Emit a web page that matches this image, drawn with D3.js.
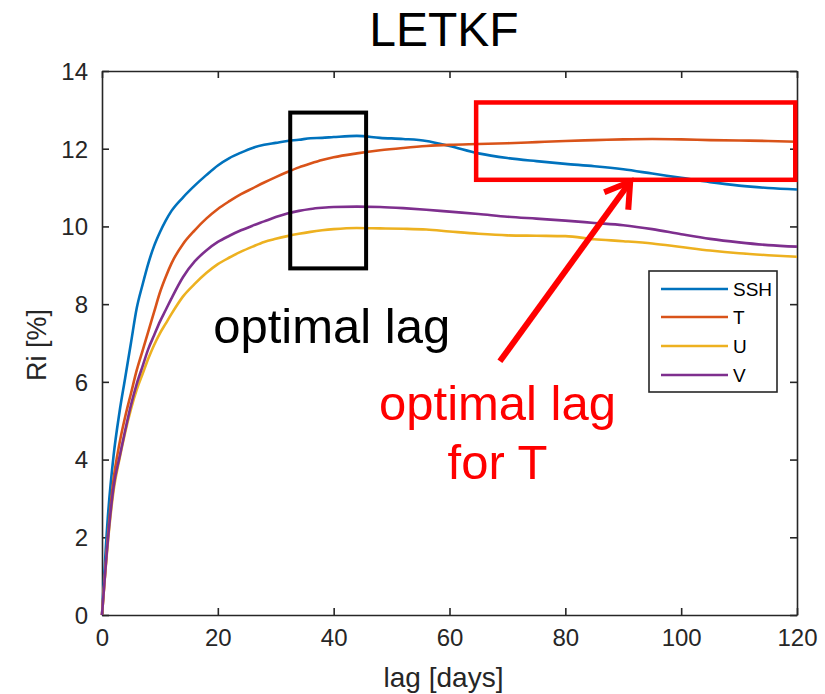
<!DOCTYPE html>
<html>
<head>
<meta charset="utf-8">
<script src="https://cdn.jsdelivr.net/npm/d3@7"></script>
<style>
  body { margin: 0; background: #fff; }
  svg { font-family: "Liberation Sans", Arial, sans-serif; }
</style>
</head>
<body>
<div id="chart"></div>
<script>
// lag values (days) shared by all series
const lagDays = [0,1,2,3,4,5,6,7,8,9,10,11,12,14,16,18,20,22,24,26,28,30,32,34,36,38,40,44,48,52,56,60,65,70,75,80,85,90,95,100,105,110,115,120];

// Ri [%] per variable
const ssh = [0,2.5,4.1,5.2,6.1,7.0,7.9,8.5,9.05,9.5,9.85,10.15,10.4,10.75,11.05,11.32,11.57,11.76,11.9,12.02,12.1,12.15,12.2,12.23,12.27,12.28,12.3,12.33,12.28,12.25,12.2,12.07,11.88,11.76,11.68,11.61,11.55,11.47,11.36,11.25,11.14,11.05,10.99,10.95];
const temp = [0,2.0,3.5,4.4,5.1,5.7,6.3,6.8,7.3,7.8,8.3,8.7,9.05,9.55,9.9,10.2,10.45,10.65,10.83,10.98,11.13,11.27,11.4,11.52,11.62,11.71,11.78,11.88,11.96,12.02,12.07,12.1,12.12,12.14,12.17,12.2,12.22,12.24,12.25,12.24,12.22,12.21,12.2,12.18];
const uVel = [0,1.85,3.2,4.0,4.7,5.3,5.8,6.2,6.6,6.95,7.25,7.5,7.75,8.2,8.52,8.8,9.03,9.2,9.35,9.48,9.6,9.68,9.75,9.81,9.86,9.9,9.93,9.96,9.95,9.94,9.92,9.87,9.81,9.77,9.76,9.75,9.67,9.62,9.56,9.47,9.38,9.31,9.26,9.22];
const vVel = [0,1.9,3.3,4.05,4.75,5.4,5.95,6.4,6.85,7.2,7.55,7.85,8.15,8.7,9.1,9.38,9.6,9.76,9.9,10.02,10.13,10.24,10.33,10.4,10.45,10.48,10.5,10.51,10.5,10.47,10.43,10.38,10.32,10.25,10.2,10.15,10.09,10.03,9.93,9.8,9.68,9.59,9.52,9.48];

const seriesNames = ["SSH", "T", "U", "V"];
const seriesValues = [ssh, temp, uVel, vVel];
const seriesColors = ["#0072BD", "#D95319", "#EDB120", "#7E2F8E"];

const xTicks = [0,20,40,60,80,100,120];
const yTicks = [0,2,4,6,8,10,12,14];

// annotation anchors in data units: [lag0, lag1, ri0, ri1]
const blackBox = [32.5, 45.6, 8.92, 12.93];
const redBox = [64.6, 119.7, 11.2, 13.19];
const arrowFromTo = [[68.7, 6.53], [91.2, 11.15]];

const width = 825, height = 694;
const margin = {top: 71, right: 28, bottom: 79, left: 102};

const svg = d3.select("#chart").append("svg")
    .attr("width", width)
    .attr("height", height);

const x = d3.scaleLinear().domain([0, 120]).range([margin.left, width - margin.right]);
const y = d3.scaleLinear().domain([0, 14]).range([height - margin.bottom, margin.top]);

const axisColor = "#262626";
const tickLen = 7;

// axes, ticks pointing inward like MATLAB
const bottomAxis = svg.append("g")
    .attr("transform", "translate(0," + y(0) + ")")
    .call(d3.axisBottom(x).tickValues(xTicks).tickSizeInner(-tickLen).tickSizeOuter(0).tickPadding(14));
const topAxis = svg.append("g")
    .attr("transform", "translate(0," + y(14) + ")")
    .call(d3.axisTop(x).tickValues(xTicks).tickSizeInner(-tickLen).tickSizeOuter(0).tickFormat(""));
const leftAxis = svg.append("g")
    .attr("transform", "translate(" + x(0) + ",0)")
    .call(d3.axisLeft(y).tickValues(yTicks).tickSizeInner(-tickLen).tickSizeOuter(0).tickPadding(14));
const rightAxis = svg.append("g")
    .attr("transform", "translate(" + x(120) + ",0)")
    .call(d3.axisRight(y).tickValues(yTicks).tickSizeInner(-tickLen).tickSizeOuter(0).tickFormat(""));

[bottomAxis, topAxis, leftAxis, rightAxis].forEach(g => {
    g.select(".domain").attr("stroke", axisColor).attr("stroke-width", 1.6);
    g.selectAll(".tick line").attr("stroke", axisColor).attr("stroke-width", 1.6);
    g.selectAll(".tick text")
        .attr("fill", axisColor)
        .style("font-family", "'Liberation Sans', Arial, sans-serif")
        .style("font-size", "24px");
});
bottomAxis.selectAll(".tick text").attr("dy", "0.71em").attr("y", 14);
leftAxis.selectAll(".tick text").attr("dy", "0.35em");

// lines
const line = d3.line()
    .x((d, i) => x(lagDays[i]))
    .y(d => y(d))
    .curve(d3.curveMonotoneX);

svg.append("g").selectAll("path")
    .data(seriesValues)
    .join("path")
    .attr("d", d => line(d))
    .attr("fill", "none")
    .attr("stroke", (d, i) => seriesColors[i])
    .attr("stroke-width", 2.6)
    .attr("stroke-linejoin", "round");

// axis labels and title
svg.append("text")
    .attr("x", 443.5).attr("y", 687)
    .attr("text-anchor", "middle")
    .attr("fill", axisColor)
    .style("font-size", "28px")
    .text("lag [days]");

svg.append("text")
    .attr("transform", "translate(46,345) rotate(-90)")
    .attr("text-anchor", "middle")
    .attr("fill", axisColor)
    .style("font-size", "27px")
    .text("Ri [%]");

svg.append("text")
    .attr("x", 444).attr("y", 46)
    .attr("text-anchor", "middle")
    .attr("fill", "#000")
    .style("font-size", "48px")
    .text("LETKF");

// legend
const legend = svg.append("g");
legend.append("rect")
    .attr("x", 649).attr("y", 271)
    .attr("width", 128).attr("height", 121)
    .attr("fill", "#fff")
    .attr("stroke", axisColor)
    .attr("stroke-width", 1.6);
const legendRows = [289, 317, 346, 375];
seriesNames.forEach((name, i) => {
    legend.append("line")
        .attr("x1", 661).attr("x2", 728)
        .attr("y1", legendRows[i]).attr("y2", legendRows[i])
        .attr("stroke", seriesColors[i])
        .attr("stroke-width", 2.6);
    legend.append("text")
        .attr("x", 733).attr("y", legendRows[i] + 7)
        .attr("fill", "#000")
        .style("font-size", "19px")
        .text(name);
});

// annotations
svg.append("rect")
    .attr("x", x(blackBox[0])).attr("y", y(blackBox[3]))
    .attr("width", x(blackBox[1]) - x(blackBox[0]))
    .attr("height", y(blackBox[2]) - y(blackBox[3]))
    .attr("fill", "none")
    .attr("stroke", "#000")
    .attr("stroke-width", 4);

svg.append("rect")
    .attr("x", x(redBox[0])).attr("y", y(redBox[3]))
    .attr("width", x(redBox[1]) - x(redBox[0]))
    .attr("height", y(redBox[2]) - y(redBox[3]))
    .attr("fill", "none")
    .attr("stroke", "#FF0000")
    .attr("stroke-width", 4.5);

const p0 = [x(arrowFromTo[0][0]), y(arrowFromTo[0][1])];
const p1 = [x(arrowFromTo[1][0]), y(arrowFromTo[1][1])];
const ang = Math.atan2(p1[1] - p0[1], p1[0] - p0[0]);
const headLen = 28, headAng = Math.PI / 180 * 32;
const arm = a => [p1[0] - headLen * Math.cos(ang + a), p1[1] - headLen * Math.sin(ang + a)];

svg.append("line")
    .attr("x1", p0[0]).attr("y1", p0[1])
    .attr("x2", p1[0]).attr("y2", p1[1])
    .attr("stroke", "#FF0000")
    .attr("stroke-width", 6);
svg.append("path")
    .attr("d", d3.line()([arm(headAng), p1, arm(-headAng)]))
    .attr("fill", "none")
    .attr("stroke", "#FF0000")
    .attr("stroke-width", 6)
    .attr("stroke-linejoin", "miter");

svg.append("text")
    .attr("x", x(19.2)).attr("y", 343)
    .attr("fill", "#000")
    .style("font-size", "49px")
    .text("optimal lag");

svg.append("text")
    .attr("x", 497.5).attr("y", 420)
    .attr("text-anchor", "middle")
    .attr("fill", "#FF0000")
    .style("font-size", "49px")
    .text("optimal lag");
svg.append("text")
    .attr("x", 497.5).attr("y", 479)
    .attr("text-anchor", "middle")
    .attr("fill", "#FF0000")
    .style("font-size", "49px")
    .text("for T");
</script>
</body>
</html>
